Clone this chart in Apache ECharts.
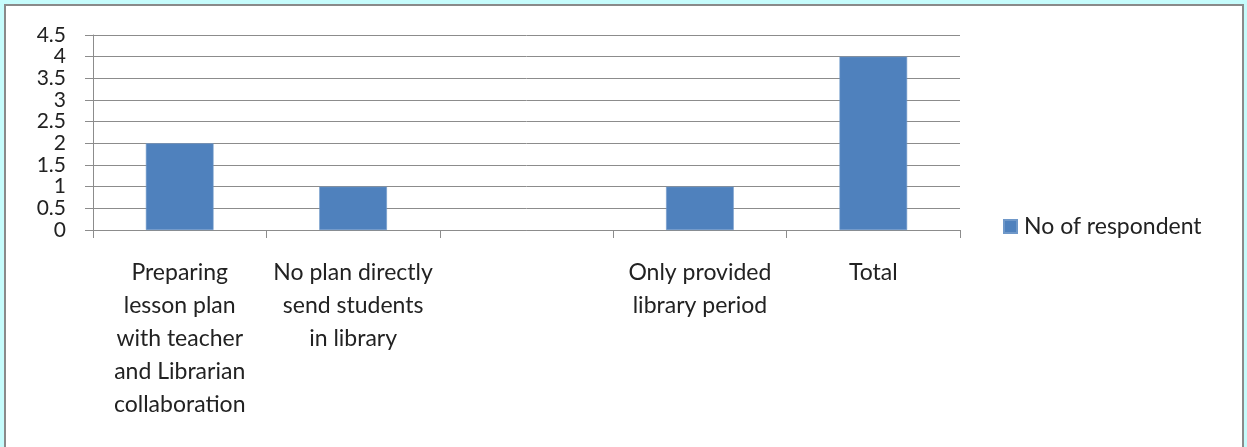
<!DOCTYPE html>
<html>
<head>
<meta charset="utf-8">
<script src="https://cdn.jsdelivr.net/npm/echarts@6/dist/echarts.min.js"></script>
<style>
  html, body { margin: 0; padding: 0; width: 1247px; height: 447px; overflow: hidden; background: #c6fcfc; }
  #frame { position: absolute; left: 4px; top: 4px; width: 1236px; height: 470px; background: #ffffff;
           border: 2px solid #8a8a8a; border-bottom: none; }
  #chart { position: absolute; left: 0; top: 0; width: 1247px; height: 447px; }
</style>
</head>
<body>
<div id="frame"></div>
<div id="chart"></div>
<script>
// Survey categories (line breaks as they wrap under each column)
const categories = [
  'Preparing\nlesson plan\nwith teacher\nand Librarian\ncollaboration',
  'No plan directly\nsend students\nin library',
  '',
  'Only provided\nlibrary period',
  'Total'
];
const seriesName = 'No of respondent';
const respondents = [2, 1, null, 1, 4];
const yTicks = { min: 0, max: 4.5, interval: 0.5 };

const FONT = 'Lato, "Open Sans", sans-serif';
const chart = echarts.init(document.getElementById('chart'), null, { renderer: 'canvas' });

chart.setOption({
  backgroundColor: 'transparent',
  animation: false,
  grid: { left: 93, right: 287, top: 35, bottom: 217, containLabel: false },
  legend: {
    data: [seriesName],
    left: 1003,
    top: 215,
    padding: 0,
    icon: 'rect',
    itemWidth: 13,
    itemHeight: 13,
    textStyle: { fontFamily: FONT, fontSize: 23, color: '#222', padding: [0, 0, 0, 2] }
  },
  xAxis: {
    type: 'category',
    data: categories,
    boundaryGap: true,
    axisLine: { lineStyle: { color: '#8c8c8c', width: 1 } },
    axisTick: { show: true, length: 8, alignWithLabel: false, lineStyle: { color: '#8c8c8c' } },
    axisLabel: {
      interval: 0,
      margin: 26,
      fontFamily: FONT,
      fontSize: 23,
      lineHeight: 33,
      color: '#222',
      align: 'center'
    },
    splitLine: { show: false }
  },
  yAxis: {
    type: 'value',
    min: yTicks.min,
    max: yTicks.max,
    interval: yTicks.interval,
    axisLine: { show: true, lineStyle: { color: '#8c8c8c', width: 1 } },
    axisTick: { show: true, length: 8, lineStyle: { color: '#8c8c8c' } },
    axisLabel: { margin: 27, fontFamily: FONT, fontSize: 21, lineHeight: 20, color: '#222' },
    splitLine: { show: true, lineStyle: { color: '#8c8c8c', width: 1 } }
  },
  series: [{
    name: seriesName,
    type: 'bar',
    data: respondents,
    barWidth: '39%',
    itemStyle: { color: '#4f81bd', borderColor: '#6f98c9', borderWidth: 0.6 }
  }]
});
</script>
</body>
</html>
